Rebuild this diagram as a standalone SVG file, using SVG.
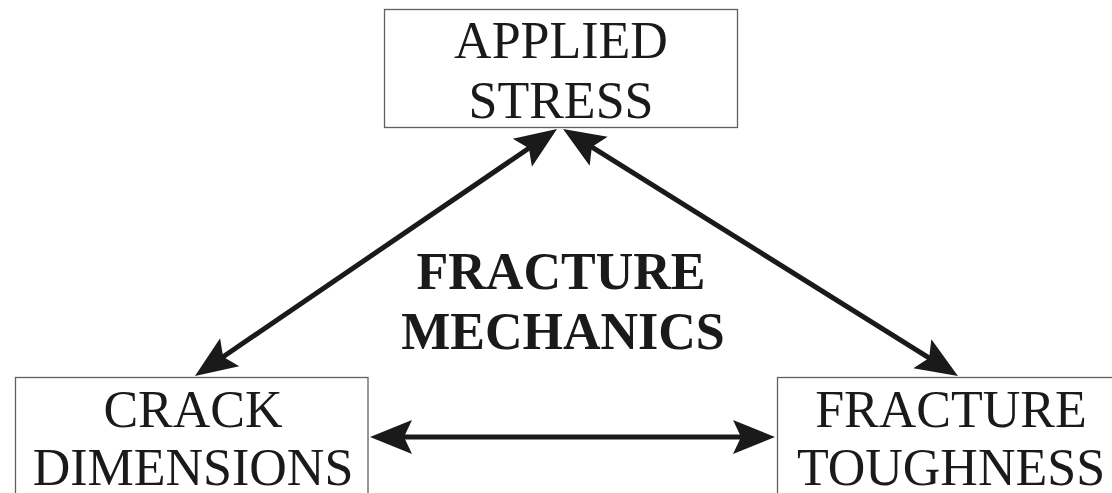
<svg xmlns="http://www.w3.org/2000/svg" width="1112" height="493" viewBox="0 0 1112 493">
<style>
.box{fill:#fff;stroke:#606060;stroke-width:1.3}
.lbl{font-family:"Liberation Serif","Times New Roman",serif;font-size:52px;fill:#1a1a1a;text-anchor:middle}
.bold{font-weight:bold}
.conn{stroke:#1a1a1a;stroke-width:5;fill:none;marker-start:url(#ah);marker-end:url(#ah)}
</style>
<defs>
<marker id="ah" markerUnits="userSpaceOnUse" markerWidth="44" markerHeight="40" refX="22" refY="20" orient="auto-start-reverse">
<path d="M0,3 L42,20 L0,37 L8,20 Z" fill="#1a1a1a"/>
</marker>
</defs>
<rect width="1112" height="493" fill="#fff"/>
<g id="applied-stress">
<rect class="box" x="384.5" y="9.5" width="353" height="118"/>
<text class="lbl" x="561" y="58">APPLIED</text>
<text class="lbl" x="561" y="118">STRESS</text>
</g>
<g id="crack-dimensions">
<rect class="box" x="15.5" y="377.5" width="352.5" height="130"/>
<text class="lbl" x="193" y="427">CRACK</text>
<text class="lbl" x="193" y="485">DIMENSIONS</text>
</g>
<g id="fracture-toughness">
<rect class="box" x="777.5" y="377.5" width="400" height="130"/>
<text class="lbl" x="951" y="427">FRACTURE</text>
<text class="lbl" x="951" y="485">TOUGHNESS</text>
</g>
<g id="fracture-mechanics">
<text class="lbl bold" x="561" y="289">FRACTURE</text>
<text class="lbl bold" x="563" y="349">MECHANICS</text>
</g>
<g id="connectors">
<line class="conn" x1="540.5" y1="140.3" x2="211.5" y2="364.7"/>
<line class="conn" x1="580" y1="139.6" x2="941" y2="365.4"/>
<line class="conn" x1="390" y1="437" x2="755" y2="437"/>
</g>
</svg>
